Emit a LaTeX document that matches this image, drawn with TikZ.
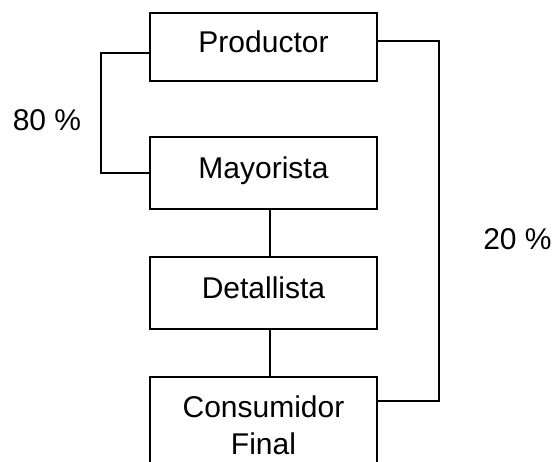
\documentclass[tikz,border=0pt]{standalone}
\usepackage{fontspec}
\setmainfont{Liberation Sans}
\begin{document}
\begin{tikzpicture}[x=1pt,y=-1pt,
  stagebox/.style={draw, line width=1.6pt, minimum width=227pt, minimum height=68pt, inner sep=0pt,
    font=\fontsize{30}{37}\selectfont, align=center, text height=22pt, text depth=11pt},
  link/.style={line width=1.6pt},
  pct/.style={font=\fontsize{30}{37}\selectfont, inner sep=0pt}]
\useasboundingbox (0,0) rectangle (559,462);
\clip (0,0) rectangle (559,462);
\node[stagebox] (P) at (263.5,47) {Productor};
\node[stagebox, minimum height=72pt] (M) at (263.5,173) {Mayorista};
\node[stagebox, minimum height=72pt] (D) at (263.5,293) {Detallista};
\node[stagebox, minimum height=100pt] (C) at (263.5,427) {};
\node[pct, anchor=base] (Ct) at (263.5,417) {\begin{tabular}[t]{@{}c@{}}Consumidor\\Final\end{tabular}};
\draw[link] ([yshift=-6pt]P.west) -- ++(-48,0) |- (M.west);
\draw[link] ([yshift=6pt]P.east) -- ++(61,0) |- ([yshift=26pt]C.east);
\draw[link] ([xshift=6.5pt]M.south) -- ([xshift=6.5pt]D.north);
\draw[link] ([xshift=6.5pt]D.south) -- ([xshift=6.5pt]C.north);
\node[pct] (L80) at (47,120) {80 \%};
\node[pct] (L20) at (517.5,239) {20 \%};
\end{tikzpicture}
\end{document}
